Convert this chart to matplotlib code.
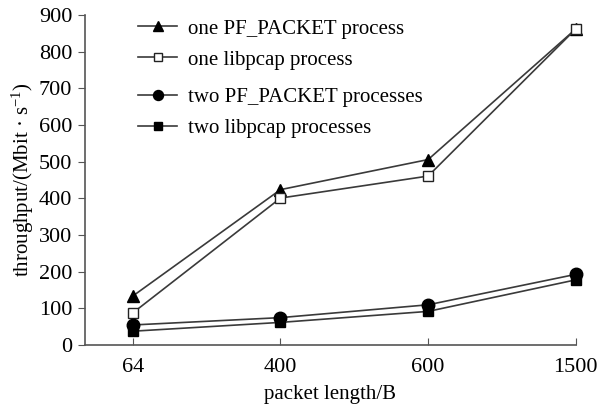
import matplotlib
matplotlib.use("Agg")
import matplotlib.pyplot as plt

plt.rcParams['font.family'] = ['Liberation Serif', 'DejaVu Serif']
plt.rcParams['mathtext.fontset'] = 'custom'
plt.rcParams['mathtext.rm'] = 'Liberation Serif'
plt.rcParams['mathtext.it'] = 'Liberation Serif:italic'

# data
lengths = ['64', '400', '600', '1500']
one_pf = [134, 424, 506, 862]
one_pcap = [88, 401, 461, 862]
two_pf = [55, 75, 110, 193]
two_pcap = [38, 62, 92, 178]

fig = plt.figure(figsize=(6.01, 4.07), dpi=100)
ax = fig.add_axes([0.141, 0.152, 0.817, 0.811])

x = range(len(lengths))
lc = '#3a3a3a'
l1, = ax.plot(x, one_pf, color=lc, lw=1.2, marker='^', ms=9, mfc='black', mec='black', clip_on=False)
l2, = ax.plot(x, one_pcap, color=lc, lw=1.2, marker='s', ms=7, mfc='white', mec='#222222', clip_on=False)
l3, = ax.plot(x, two_pf, color=lc, lw=1.2, marker='o', ms=9, mfc='black', mec='black', clip_on=False)
l4, = ax.plot(x, two_pcap, color=lc, lw=1.2, marker='s', ms=7, mfc='black', mec='black', clip_on=False)

ax.set_xlim(-0.326, 3.0)
ax.set_ylim(0, 900)
ax.set_xticks(list(x))
ax.set_xticklabels(lengths)
ax.set_yticks(range(0, 901, 100))
ax.tick_params(axis='x', direction='in', length=5, labelsize=16, pad=9, color='#555555')
ax.tick_params(axis='y', direction='out', length=5, labelsize=16, pad=4, color='#555555')
for s in ['top', 'right']:
    ax.spines[s].set_visible(False)
for s in ['left', 'bottom']:
    ax.spines[s].set_color('#555555')
    ax.spines[s].set_linewidth(1.2)

ax.set_xlabel('packet length/B', fontsize=15, labelpad=6)
ax.set_ylabel(r'throughput/(Mbit · s$^{-1}$)', fontsize=15, labelpad=2)

leg_kw = dict(loc='upper left', frameon=False, fontsize=15, handlelength=1.9,
              labelspacing=0.55, handletextpad=0.5, markerscale=0.8)
leg1 = ax.legend([l1, l2], ['one PF_PACKET process', 'one libpcap process'],
                 bbox_to_anchor=(0.07, 1.045), **leg_kw)
ax.add_artist(leg1)
ax.legend([l3, l4], ['two PF_PACKET processes', 'two libpcap processes'],
          bbox_to_anchor=(0.07, 0.838), **leg_kw)

fig.savefig('out.png', dpi=100)
